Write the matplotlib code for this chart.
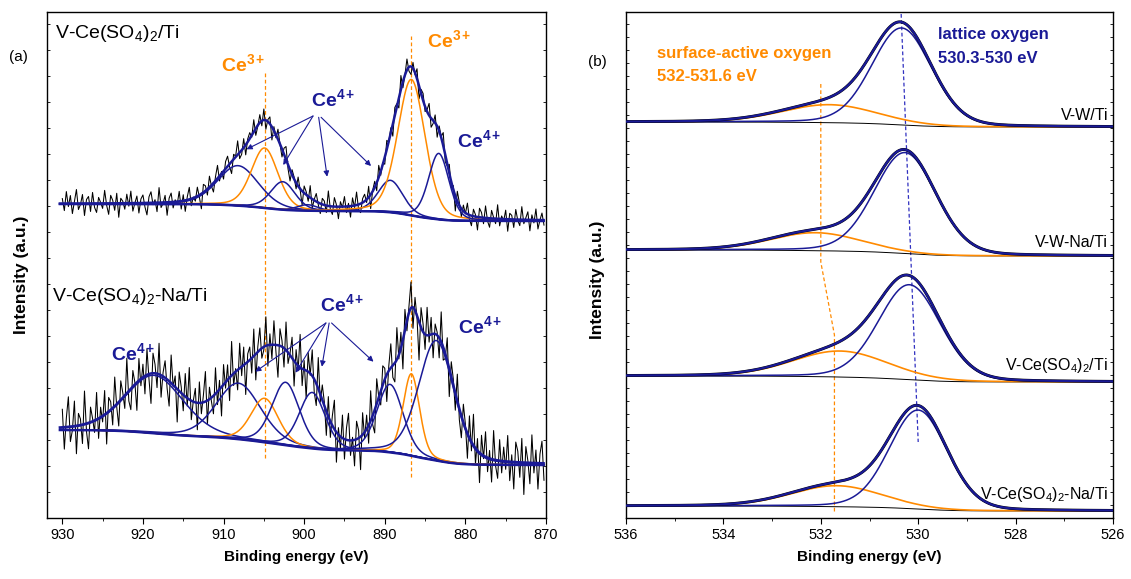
import numpy as np
import matplotlib
matplotlib.use("Agg")
import matplotlib.pyplot as plt
from matplotlib.ticker import MultipleLocator

plt.rcParams['font.family'] = ['Liberation Sans', 'DejaVu Sans']
plt.rcParams['mathtext.fontset'] = 'custom'
plt.rcParams['mathtext.rm'] = 'Liberation Sans'
plt.rcParams['mathtext.bf'] = 'Liberation Sans:bold'
plt.rcParams['mathtext.it'] = 'Liberation Sans:italic'

NAVY = '#1a1a96'
ORANGE = '#FF8A00'

# ---------------- Panel (a): Ce 3d ----------------
# fitted components: centre (eV), height (a.u.), FWHM (eV), species
ce_top_centers = [908.2, 904.9, 902.65, 899.6, 889.3, 886.7, 883.3]
ce_top_heights = [40, 60, 28, 6, 32, 136, 66]
ce_top_fwhm = [6.0, 3.9, 3.6, 3.0, 3.6, 4.0, 3.0]
ce_top_species = ['Ce4+', 'Ce3+', 'Ce4+', 'Ce4+', 'Ce4+', 'Ce3+', 'Ce4+']
ce_top_bg = [314, 297]          # background at high-BE end, low-BE end

ce_bot_centers = [918.6, 908.15, 904.9, 902.3, 899.0, 889.35, 886.7, 883.6]
ce_bot_heights = [58, 56, 44, 63, 56, 68, 82, 120]
ce_bot_fwhm = [8.5, 6.5, 4.0, 4.0, 3.8, 3.8, 2.4, 5.2]
ce_bot_species = ['Ce4+', 'Ce4+', 'Ce3+', 'Ce4+', 'Ce4+', 'Ce4+', 'Ce3+', 'Ce4+']
ce_bot_bg = [88, 53]

# raw-data scatter about the fit, 0.25 eV steps from 930 eV
noise_top = [int(v) for v in """
5 -7 12 -3 8 -10 2 14 -6 -1 9 -12 4 7 -8 11 -4 -9 6 1
-5 13 -2 -11 8 3 -7 10 -14 5 2 -6 9 -3 12 -8 0 7 -10 4
8 -4 -12 6 11 -2 3 -9 15 -5 -1 7 -13 4 9 -6 2 -3 10 -8
6 -11 3 12 -7 1 -4 9 -2 -15 8 5 -6 11 -1 -9 4 13 -5 2
-8 7 10 -3 -12 5 1 14 -6 -4 9 -10 3 6 -2 12 -7 -1 8 -5
11 -9 2 7 -13 4 -3 10 0 -8 6 13 -4 -11 5 2 -6 9 -1 -14
7 3 -5 12 -9 1 8 -2 -10 6 4 -7 15 -3 -8 9 2 -12 5 -1
10 -6 3 -11 8 -2 13 -5 -9 4 7 -3 11 -14 1 6 -8 12 -4 2
-7 9 -1 5 -12 8 3 -10 14 -6 0 11 -4 -8 6 -2 10 -13 4 7
-5 2 12 -9 -3 8 -11 5 1 13 -7 -2 9 -6 4 -15 10 3 -8 6
-1 11 -4 -10 7 2 -13 9 5 -6 12 -3 -9 8 1 -5 14 -7 3 -2
9 -12 6 4 -8 10 -1 -6 13 -4 2 8 -11 5 -3 11 -9 0 7 -5
""".split()]
noise_bot = [int(v) for v in """
18 -22 9 30 -15 -4 25 -28 12 6 -19 33 -8 -26 15 3 -12 27 -20 10
-6 24 -31 14 8 -17 29 -3 -24 19 5 -13 35 -10 -21 16 2 -28 22 -7
13 -18 26 -5 -30 20 9 -14 31 -22 4 17 -9 -25 28 -2 11 -33 19 6
-16 23 -8 32 -19 1 14 -27 21 -11 7 30 -24 12 -4 -18 26 -13 9 -29
20 -6 15 -23 34 -12 3 -20 25 -9 18 -31 8 13 -15 27 -26 5 22 -10
-3 29 -21 11 -14 24 -7 -32 17 6 -19 28 -11 2 21 -25 14 -5 33 -17
9 -28 19 -2 26 -13 -22 31 -8 15 4 -24 20 -16 10 29 -30 7 -12 23
-20 12 27 -15 3 -26 18 8 -33 22 -6 14 -18 30 -9 -23 25 1 -14 19
11 -27 5 24 -12 -19 32 -4 16 -29 21 -10 7 26 -21 13 -2 -38 20 8
-15 28 -7 17 -24 10 3 -20 30 -13 -5 23 -28 15 6 -17 27 -11 -22 18
4 -25 22 -9 31 -16 12 -30 19 -3 25 -14 8 -23 29 -6 -18 21 -12 14
-8 26 -19 7 -27 20 11 -15 24 -32 16 2 -21 28 -10 13 -26 9 22 -17
""".split()]

ce_top_label = 'V-Ce(SO$_4$)$_2$/Ti'
ce_bot_label = 'V-Ce(SO$_4$)$_2$-Na/Ti'
ce3_dash_x = [904.9, 886.7]
ce3_dash_top = [446, 482]
ce3_dash_bottom = [60, 41]

# ---------------- Panel (b): O 1s ----------------
o_samples = ['V-W/Ti', 'V-W-Na/Ti', 'V-Ce(SO$_4$)$_2$/Ti', 'V-Ce(SO$_4$)$_2$-Na/Ti']
o_surface_center = [531.82, 532.1, 531.6, 531.67]
o_surface_height = [18, 18, 26, 21]
o_surface_fwhm = [2.3, 2.2, 2.3, 2.2]
o_lattice_center = [530.34, 530.27, 530.18, 530.0]
o_lattice_height = [97, 101, 95, 99]
o_lattice_fwhm = [1.45, 1.5, 1.5, 1.4]
o_bg_left = [396, 268, 142, 12]
o_bg_right = [391, 262, 136, 7]
o_label_y = [398, 271, 148, 19]
surf_guide_x = [532.0, 532.0, 531.72, 531.72]
surf_guide_y = [434, 256, 183, 6]
latt_guide_x = [530.35, 530.0]
latt_guide_y = [504, 76]


def pv(x, c, h, w, eta=0.2):
    g = np.exp(-4 * np.log(2) * (x - c) ** 2 / w ** 2)
    l = 1.0 / (1 + 4 * (x - c) ** 2 / w ** 2)
    return h * ((1 - eta) * g + eta * l)


def shirley(x, total, b_left, b_right):
    order = np.argsort(x)
    xs, ps = x[order], total[order]
    cum = np.concatenate([[0.0], np.cumsum(0.5 * (ps[1:] + ps[:-1]) * np.diff(xs))])
    frac = cum / cum[-1]
    bg = np.empty_like(frac)
    bg[order] = b_right + (b_left - b_right) * frac
    return bg


fig = plt.figure(figsize=(11.31, 5.79), dpi=100)
W, H = 1131, 579
axa = fig.add_axes([47 / W, (H - 518) / H, 499 / W, 506 / H])
axb = fig.add_axes([626 / W, (H - 518) / H, 487 / W, 506 / H])

x = np.linspace(930.3, 870.3, 1500)
x_raw = np.arange(930.0, 870.0, -0.25)


def draw_ce(ax, centers, heights, fwhm, species, bg_lr, noise):
    comps = [pv(x, c, h, w, 0.25) for c, h, w in zip(centers, heights, fwhm)]
    tot = np.sum(comps, axis=0)
    bg = shirley(x, tot, *bg_lr)
    comps_raw = np.sum([pv(x_raw, c, h, w, 0.25) for c, h, w in zip(centers, heights, fwhm)], axis=0)
    bg_raw = shirley(x_raw, comps_raw, *bg_lr)
    raw = bg_raw + comps_raw + np.array(noise[:len(x_raw)])
    ax.plot(x_raw, raw, color='black', lw=0.75, zorder=1)
    for comp, sp in zip(comps, species):
        ax.plot(x, bg + comp, color=ORANGE if sp == 'Ce3+' else NAVY, lw=1.1, zorder=2)
    ax.plot(x, bg + tot, color=NAVY, lw=1.8, zorder=3)
    ax.plot(x, bg, color=NAVY, lw=1.8, zorder=3)


draw_ce(axa, ce_top_centers, ce_top_heights, ce_top_fwhm, ce_top_species, ce_top_bg, noise_top)
draw_ce(axa, ce_bot_centers, ce_bot_heights, ce_bot_fwhm, ce_bot_species, ce_bot_bg, noise_bot)

for xd, yt, yb in zip(ce3_dash_x, ce3_dash_top, ce3_dash_bottom):
    axa.plot([xd, xd], [yb, yt], color=ORANGE, lw=0.9, ls=(0, (3, 2)), zorder=0)

axa.set_xlim(931.9, 870)
axa.set_ylim(0, 506)
axa.set_xticks([930, 920, 910, 900, 890, 880, 870])
axa.xaxis.set_minor_locator(MultipleLocator(5))
axa.set_yticks(np.arange(26, 506, 26))
axa.set_yticklabels([])
axa.tick_params(axis='x', direction='out', length=4, labelsize=10.5, pad=3)
axa.tick_params(axis='x', which='minor', direction='out', length=2.5)
axa.tick_params(axis='y', direction='in', length=2.5, width=0.6, left=True, right=True)
axa.set_xlabel('Binding energy (eV)', fontsize=11, fontweight='bold', labelpad=6)
axa.set_ylabel('Intensity (a.u.)', fontsize=12.5, fontweight='bold')
axa.yaxis.set_label_coords(-0.036, 0.48)

axa.text(0.016, 0.949, ce_top_label, transform=axa.transAxes, fontsize=14, va='baseline', ha='left')
axa.text(0.010, 0.429, ce_bot_label, transform=axa.transAxes, fontsize=14, va='baseline', ha='left')

# Ce labels: (text, x eV, y, colour)
ce_labels = [('Ce$^{\\mathbf{3+}}$', 910.3, 447, ORANGE), ('Ce$^{\\mathbf{3+}}$', 884.8, 471, ORANGE),
             ('Ce$^{\\mathbf{4+}}$', 899.2, 412, NAVY), ('Ce$^{\\mathbf{4+}}$', 881.1, 371, NAVY),
             ('Ce$^{\\mathbf{4+}}$', 924.0, 158, NAVY), ('Ce$^{\\mathbf{4+}}$', 898.0, 207, NAVY),
             ('Ce$^{\\mathbf{4+}}$', 880.9, 185, NAVY)]
for t, xx, yy, col in ce_labels:
    axa.text(xx, yy, t, color=col, fontsize=14, fontweight='bold', ha='left', va='baseline')

# arrows (start, end)
ce_arrows = [((898.9, 402), (907.15, 368.7)), ((898.9, 402), (902.6, 353)),
             ((898.2, 400.7), (897.15, 341.3)), ((897.9, 400.7), (891.7, 352)),
             ((897.3, 195), (906.06, 146.3)), ((897.3, 195), (901.06, 145.3)),
             ((896.9, 195), (897.8, 151.3)), ((896.6, 195), (891.4, 156.3))]
for s, e in ce_arrows:
    axa.annotate('', xy=e, xytext=s,
                 arrowprops=dict(arrowstyle='-|>', color=NAVY, lw=0.8, mutation_scale=8,
                                 shrinkA=0, shrinkB=0))

fig.text(18 / W, 1 - 57 / H, '(a)', fontsize=11, ha='center', va='center')
fig.text(597 / W, 1 - 62 / H, '(b)', fontsize=11, ha='center', va='center')

# ---------------- panel (b) drawing ----------------
xo = np.linspace(536, 526, 800)
for i in range(4):
    surf = pv(xo, o_surface_center[i], o_surface_height[i], o_surface_fwhm[i], 0.15)
    latt = pv(xo, o_lattice_center[i], o_lattice_height[i], o_lattice_fwhm[i], 0.15)
    tot = surf + latt
    bg = shirley(xo, tot, o_bg_left[i], o_bg_right[i])
    axb.plot(xo, bg, color='black', lw=0.7, zorder=1)
    axb.plot(xo, bg + surf, color=ORANGE, lw=1.2, zorder=2)
    axb.plot(xo, bg + latt, color=NAVY, lw=1.1, zorder=3)
    axb.plot(xo, bg + tot, color='black', lw=2.1, zorder=3)
    axb.plot(xo, bg + tot, color=NAVY, lw=1.6, zorder=4)
    axb.text(526.1, o_label_y[i], o_samples[i], fontsize=11.5, ha='right', va='baseline')

axb.plot(surf_guide_x, surf_guide_y, color=ORANGE, lw=0.9, ls=(0, (3, 2)), zorder=0)
axb.plot(latt_guide_x, latt_guide_y, color='#3030c0', lw=0.9, ls=(0, (3, 2)), zorder=0)

axb.text(535.36, 518 - 58, 'surface-active oxygen', color=ORANGE, fontsize=12, fontweight='bold', va='baseline')
axb.text(535.36, 518 - 81, '532-531.6 eV', color=ORANGE, fontsize=12, fontweight='bold', va='baseline')
axb.text(529.59, 518 - 39, 'lattice oxygen', color=NAVY, fontsize=12, fontweight='bold', va='baseline')
axb.text(529.59, 518 - 63, '530.3-530 eV', color=NAVY, fontsize=12, fontweight='bold', va='baseline')

axb.set_xlim(536, 526)
axb.set_ylim(0, 506)
axb.set_xticks([536, 534, 532, 530, 528, 526])
axb.xaxis.set_minor_locator(MultipleLocator(1))
axb.set_yticks(np.arange(13, 506, 13))
axb.set_yticklabels([])
axb.tick_params(axis='x', direction='out', length=4, labelsize=10.5, pad=3)
axb.tick_params(axis='x', which='minor', direction='out', length=2.5)
axb.tick_params(axis='y', direction='in', length=2.5, width=0.6, left=True, right=True)
axb.set_xlabel('Binding energy (eV)', fontsize=11, fontweight='bold', labelpad=6)
axb.set_ylabel('Intensity (a.u.)', fontsize=12.5, fontweight='bold')
axb.yaxis.set_label_coords(-0.044, 0.47)

for ax in (axa, axb):
    for sp in ax.spines.values():
        sp.set_linewidth(1.0)

fig.savefig('out.png', dpi=100)
